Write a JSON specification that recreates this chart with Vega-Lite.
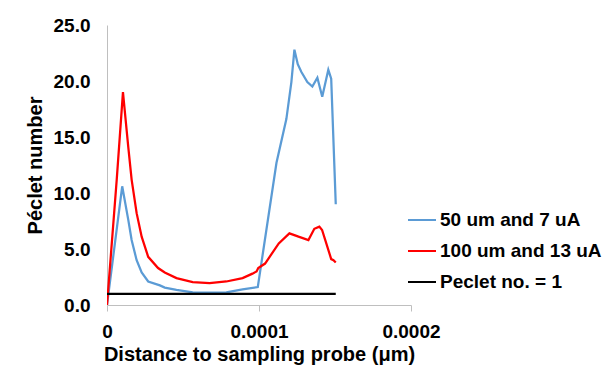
{
  "$schema": "https://vega.github.io/schema/vega-lite/v6.json",
  "autosize": "none",
  "width": 304,
  "height": 280,
  "padding": {"left": 107, "top": 25, "right": 204, "bottom": 83},
  "background": "white",
  "config": {
    "font": "Liberation Sans",
    "view": {"stroke": null},
    "axis": {"grid": false, "labelFont": "Liberation Sans", "titleFont": "Liberation Sans", "labelFontWeight": "bold", "titleFontWeight": "bold", "labelColor": "#000000", "titleColor": "#000000", "domainColor": "#BFBFBF", "tickColor": "#BFBFBF", "labelFontSize": 19, "titleFontSize": 20}
  },
  "data": {"values": [
    {"series": "50 um and 7 uA", "x": 0, "y": 0},
    {"series": "50 um and 7 uA", "x": 5.2e-6, "y": 5.5},
    {"series": "50 um and 7 uA", "x": 10e-6, "y": 10.6},
    {"series": "50 um and 7 uA", "x": 14e-6, "y": 7.6},
    {"series": "50 um and 7 uA", "x": 16.2e-6, "y": 5.8},
    {"series": "50 um and 7 uA", "x": 19.5e-6, "y": 4.0},
    {"series": "50 um and 7 uA", "x": 22.8e-6, "y": 2.9},
    {"series": "50 um and 7 uA", "x": 27.1e-6, "y": 2.1},
    {"series": "50 um and 7 uA", "x": 34.8e-6, "y": 1.75},
    {"series": "50 um and 7 uA", "x": 38e-6, "y": 1.55},
    {"series": "50 um and 7 uA", "x": 45.7e-6, "y": 1.35},
    {"series": "50 um and 7 uA", "x": 56.4e-6, "y": 1.13},
    {"series": "50 um and 7 uA", "x": 67.5e-6, "y": 1.1},
    {"series": "50 um and 7 uA", "x": 78.5e-6, "y": 1.13},
    {"series": "50 um and 7 uA", "x": 89.2e-6, "y": 1.4},
    {"series": "50 um and 7 uA", "x": 99.2e-6, "y": 1.6},
    {"series": "50 um and 7 uA", "x": 111.5e-6, "y": 12.7},
    {"series": "50 um and 7 uA", "x": 118e-6, "y": 16.6},
    {"series": "50 um and 7 uA", "x": 121.3e-6, "y": 19.9},
    {"series": "50 um and 7 uA", "x": 123.3e-6, "y": 22.8},
    {"series": "50 um and 7 uA", "x": 125.5e-6, "y": 21.5},
    {"series": "50 um and 7 uA", "x": 127.9e-6, "y": 20.8},
    {"series": "50 um and 7 uA", "x": 131.8e-6, "y": 19.9},
    {"series": "50 um and 7 uA", "x": 135.1e-6, "y": 19.5},
    {"series": "50 um and 7 uA", "x": 138.4e-6, "y": 20.3},
    {"series": "50 um and 7 uA", "x": 141.6e-6, "y": 18.6},
    {"series": "50 um and 7 uA", "x": 145.6e-6, "y": 21.0},
    {"series": "50 um and 7 uA", "x": 147.5e-6, "y": 20.2},
    {"series": "50 um and 7 uA", "x": 150.5e-6, "y": 9.0},
    {"series": "100 um and 13 uA", "x": 0, "y": 0},
    {"series": "100 um and 13 uA", "x": 6.4e-6, "y": 11.2},
    {"series": "100 um and 13 uA", "x": 10.5e-6, "y": 19.0},
    {"series": "100 um and 13 uA", "x": 14e-6, "y": 14.1},
    {"series": "100 um and 13 uA", "x": 16.2e-6, "y": 11.2},
    {"series": "100 um and 13 uA", "x": 19.5e-6, "y": 8.2},
    {"series": "100 um and 13 uA", "x": 22.8e-6, "y": 6.1},
    {"series": "100 um and 13 uA", "x": 27.1e-6, "y": 4.3},
    {"series": "100 um and 13 uA", "x": 33.6e-6, "y": 3.3},
    {"series": "100 um and 13 uA", "x": 38e-6, "y": 2.9},
    {"series": "100 um and 13 uA", "x": 45.7e-6, "y": 2.4},
    {"series": "100 um and 13 uA", "x": 56.4e-6, "y": 2.05},
    {"series": "100 um and 13 uA", "x": 67.5e-6, "y": 1.95},
    {"series": "100 um and 13 uA", "x": 78.5e-6, "y": 2.1},
    {"series": "100 um and 13 uA", "x": 89.2e-6, "y": 2.4},
    {"series": "100 um and 13 uA", "x": 95.7e-6, "y": 2.8},
    {"series": "100 um and 13 uA", "x": 98.4e-6, "y": 3.0},
    {"series": "100 um and 13 uA", "x": 99.5e-6, "y": 3.3},
    {"series": "100 um and 13 uA", "x": 104e-6, "y": 3.7},
    {"series": "100 um and 13 uA", "x": 107e-6, "y": 4.3},
    {"series": "100 um and 13 uA", "x": 113e-6, "y": 5.5},
    {"series": "100 um and 13 uA", "x": 120e-6, "y": 6.4},
    {"series": "100 um and 13 uA", "x": 126e-6, "y": 6.1},
    {"series": "100 um and 13 uA", "x": 132.5e-6, "y": 5.8},
    {"series": "100 um and 13 uA", "x": 136.4e-6, "y": 6.8},
    {"series": "100 um and 13 uA", "x": 139.7e-6, "y": 7.0},
    {"series": "100 um and 13 uA", "x": 141.5e-6, "y": 6.7},
    {"series": "100 um and 13 uA", "x": 143.6e-6, "y": 5.8},
    {"series": "100 um and 13 uA", "x": 147.5e-6, "y": 4.1},
    {"series": "100 um and 13 uA", "x": 149e-6, "y": 4.0},
    {"series": "100 um and 13 uA", "x": 150.5e-6, "y": 3.8},
    {"series": "Peclet no. = 1", "x": 0, "y": 1},
    {"series": "Peclet no. = 1", "x": 150.5e-6, "y": 1}
  ]},
  "mark": {"type": "line", "strokeWidth": 2.25, "clip": true},
  "encoding": {
    "x": {"field": "x", "type": "quantitative", "title": "Distance to sampling probe (μm)",
      "scale": {"domain": [0, 0.0002], "nice": false},
      "axis": {"values": [0, 0.0001, 0.0002], "format": "~g", "tickSize": 6, "labelPadding": 11, "titlePadding": 3, "labelFlush": false}},
    "y": {"field": "y", "type": "quantitative", "title": "Péclet number",
      "scale": {"domain": [0, 25], "nice": false},
      "axis": {"values": [0, 5, 10, 15, 20, 25], "format": ".1f", "ticks": false, "labelPadding": 17, "titlePadding": 8, "labelFlush": false}},
    "color": {"field": "series", "type": "nominal",
      "scale": {"domain": ["50 um and 7 uA", "100 um and 13 uA", "Peclet no. = 1"], "range": ["#5B9BD5", "#FF0000", "#000000"]},
      "legend": {"title": null, "orient": "none", "legendX": 300, "legendY": 180, "symbolType": "stroke", "symbolSize": 784, "symbolStrokeWidth": 2, "labelFont": "Liberation Sans", "labelFontWeight": "bold", "labelFontSize": 19, "labelColor": "#000000", "labelOffset": 3, "rowPadding": 6, "padding": 0, "labelLimit": 300}}
  }
}
